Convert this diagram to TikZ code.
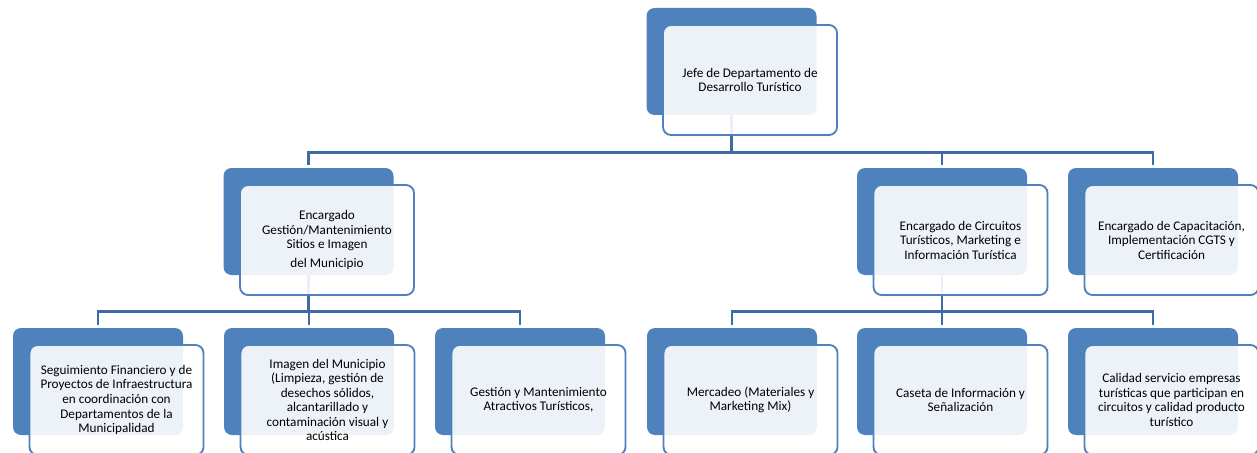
\documentclass[tikz,border=0pt]{standalone}
\usepackage{fontspec}
\setmainfont{Carlito}
\usetikzlibrary{calc,positioning}
\definecolor{orgblue}{RGB}{79,129,189}
\definecolor{orgline}{RGB}{62,107,166}
\tikzset{
  org back/.style={rectangle,rounded corners=6pt,fill=orgblue,
    minimum width=127.5pt,minimum height=80.25pt,inner sep=0pt},
  org box/.style={rectangle,rounded corners=6pt,draw=orgblue,line width=1.4pt,
    fill=white,fill opacity=0.9,text opacity=1,minimum width=130.5pt,
    minimum height=82.5pt,align=center,inner sep=2pt,
    font=\fontsize{9.9}{10.9}\selectfont},
  org edge/.style={draw=orgline,line width=1.9pt}
}

\begin{document}
\begin{tikzpicture}[x=0.75pt,y=-0.75pt]
    \useasboundingbox (0,0) rectangle (1257,453);
    % back plates
    \node[org back] (jefeback) at (731.5,61.5) {};
    \node[org back] (gestionback) at (308.5,221.5) {};
    \node[org back] (circuitosback) at (942,221.5) {};
    \node[org back] (capacitacionback) at (1153,221.5) {};
    \node[org back] (seguimientoback) at (98,381.5) {};
    \node[org back] (imagenback) at (309,381.5) {};
    \node[org back] (atractivosback) at (520,381.5) {};
    \node[org back] (mercadeoback) at (732,381.5) {};
    \node[org back] (casetaback) at (942,381.5) {};
    \node[org back] (calidadback) at (1153,381.5) {};
    % connectors
    \draw[org edge] (jefeback.south) -- ++(0,37) coordinate (jefebus);
    \draw[org edge] ([yshift=2pt]gestionback.north)
      -- (gestionback.north |- jefebus)
      -- (capacitacionback.north |- jefebus)
      -- ([yshift=2pt]capacitacionback.north);
    \draw[org edge,shorten >=2pt] (circuitosback.north |- jefebus)
      -- (circuitosback.north);
    \draw[org edge] (gestionback.south) -- ++(0,36) coordinate (gestionbus);
    \draw[org edge] ([yshift=2pt]seguimientoback.north)
      -- (seguimientoback.north |- gestionbus)
      -- (atractivosback.north |- gestionbus)
      -- ([yshift=2pt]atractivosback.north);
    \draw[org edge,shorten >=2pt] (imagenback.north |- gestionbus)
      -- (imagenback.north);
    \draw[org edge] (circuitosback.south) -- ++(0,36) coordinate (circuitosbus);
    \draw[org edge] ([yshift=2pt]mercadeoback.north)
      -- (mercadeoback.north |- circuitosbus)
      -- (calidadback.north |- circuitosbus)
      -- ([yshift=2pt]calidadback.north);
    \draw[org edge,shorten >=2pt] (casetaback.north |- circuitosbus)
      -- (casetaback.north);
    % front boxes
    \node[org box] (jefe) at ([shift={(18.5,18.5)}]jefeback)
      {Jefe de Departamento de\\Desarrollo Turístico};
    \node[org box] (gestion) at ([shift={(18.5,18.5)}]gestionback)
      {Encargado\\Gestión/Mantenimiento\\Sitios e Imagen\\[3pt]del Municipio};
    \node[org box] (circuitos) at ([shift={(18.5,18.5)}]circuitosback)
      {Encargado de Circuitos\\Turísticos, Marketing e\\Información Turística};
    \node[org box] (capacitacion) at ([shift={(18.5,18.5)}]capacitacionback)
      {Encargado de Capacitación,\\Implementación CGTS y\\Certificación};
    \node[org box] (seguimiento) at ([shift={(18.5,18.5)}]seguimientoback)
      {Seguimiento Financiero y de\\Proyectos de Infraestructura\\en coordinación con\\Departamentos de la\\Municipalidad};
    \node[org box] (imagen) at ([shift={(18.5,18.5)}]imagenback)
      {Imagen del Municipio\\(Limpieza, gestión de\\desechos sólidos,\\alcantarillado y\\contaminación visual y\\acústica};
    \node[org box] (atractivos) at ([shift={(18.5,18.5)}]atractivosback)
      {Gestión y Mantenimiento\\Atractivos Turísticos,};
    \node[org box] (mercadeo) at ([shift={(18.5,18.5)}]mercadeoback)
      {Mercadeo (Materiales y\\Marketing Mix)};
    \node[org box] (caseta) at ([shift={(18.5,18.5)}]casetaback)
      {Caseta de Información y\\Señalización};
    \node[org box] (calidad) at ([shift={(18.5,18.5)}]calidadback)
      {Calidad servicio empresas\\turísticas que participan en\\circuitos y calidad producto\\turístico};
  \end{tikzpicture}
\end{document}
